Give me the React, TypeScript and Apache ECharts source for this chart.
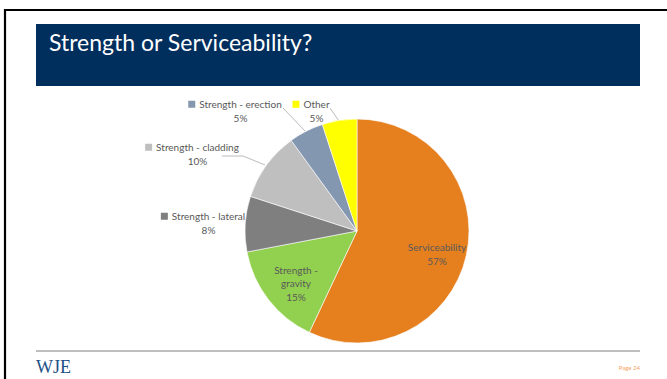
import React, { useEffect, useRef } from "react";
import * as echarts from "echarts";

const categories = [
  "Serviceability",
  "Strength - gravity",
  "Strength - lateral",
  "Strength - cladding",
  "Strength - erection",
  "Other",
];
const values = [57, 15, 8, 10, 5, 5];
const colors = ["#E6801F", "#92D050", "#7F7F7F", "#BFBFBF", "#8497B0", "#FFFF00"];
const insideSet = [true, true, false, false, false, false];

// label layout: [centerX, centerY]
const labelPos: number[][] = [
  [437, 254],
  [296, 283],
  [203, 223],
  [192, 154],
  [235, 111],
  [311, 111],
];
const leaderLines: (number[][] | null)[] = [
  null,
  null,
  null,
  [[222, 156], [243, 156], [265, 165]],
  [[283, 108], [305, 131]],
  [[330, 108], [339, 121]],
];

const FONT = "Lato, 'Open Sans', sans-serif";

export default function App() {
  const ref = useRef<HTMLDivElement>(null);
  useEffect(() => {
    if (!ref.current) return;
    const chart = echarts.init(ref.current, undefined, { renderer: "svg" });
    const data = categories.map((name, i) => {
      const inside = insideSet[i];
      return {
        name,
        value: values[i],
        itemStyle: { color: colors[i] },
        label: inside
          ? {
              position: "inside",
              formatter: i === 1 ? "Strength -\ngravity\n{d}%" : "{b}\n{d}%",
              color: "#595959",
              fontSize: 10,
              lineHeight: 13.5,
              fontFamily: FONT,
              align: "center",
            }
          : {
              position: "outside",
              formatter: () => `{sq|}{g|}{t|${name}}\n{b|}{g|}{t|${values[i]}%}`,
              rich: {
                sq: { width: 7, height: 7, backgroundColor: colors[i] },
                b: { width: 7, height: 7 },
                g: { width: 4 },
                t: { color: "#595959", fontSize: 10, fontFamily: FONT, lineHeight: 13.5 },
              },
            },
        labelLine: {
          show: !!leaderLines[i],
          lineStyle: { color: "#A6A6A6", width: 0.75 },
        },
      };
    });

    chart.setOption({
      animation: false,
      backgroundColor: "#ffffff",
      graphic: [
        { type: "line", shape: { x1: 4, y1: 10, x2: 667, y2: 10 }, style: { stroke: "#000", lineWidth: 2.2 } },
        { type: "line", shape: { x1: 5, y1: 9, x2: 5, y2: 379 }, style: { stroke: "#000", lineWidth: 2.2 } },
        { type: "rect", shape: { x: 36, y: 24, width: 604, height: 62 }, style: { fill: "#002E5D" } },
        {
          type: "text",
          x: 49,
          y: 42,
          style: {
            text: "Strength or Serviceability?",
            fill: "#ffffff",
            font: `23px ${FONT}`,
            verticalAlign: "middle",
          },
        },
        { type: "line", shape: { x1: 36, y1: 351, x2: 640, y2: 351 }, style: { stroke: "#808080", lineWidth: 1.2 } },
        {
          type: "text",
          x: 36,
          y: 367,
          style: {
            text: "WJE",
            fill: "#1C4F86",
            font: "18px 'Liberation Serif', serif",
            verticalAlign: "middle",
          },
        },
        {
          type: "text",
          x: 640,
          y: 367,
          style: {
            text: "Page 24",
            fill: "#F4A460",
            font: `6px ${FONT}`,
            align: "right",
            verticalAlign: "middle",
          },
        },
      ],
      series: [
        {
          type: "pie",
          center: [357, 231],
          radius: 112,
          startAngle: 90,
          clockwise: true,
          itemStyle: { borderColor: "#ffffff", borderWidth: 0.6 },
          emphasis: { disabled: true },
          data,
          labelLayout: (params: any) => {
            const i = params.dataIndex;
            const p = labelPos[i];
            const res: any = { x: p[0], y: p[1], align: "center", verticalAlign: "middle" };
            if (leaderLines[i]) res.labelLinePoints = leaderLines[i];
            return res;
          },
        },
      ],
    });
    return () => chart.dispose();
  }, []);
  return (
    <div
      ref={ref}
      style={{ position: "fixed", left: 0, top: 0, width: 667, height: 379 }}
    />
  );
}
